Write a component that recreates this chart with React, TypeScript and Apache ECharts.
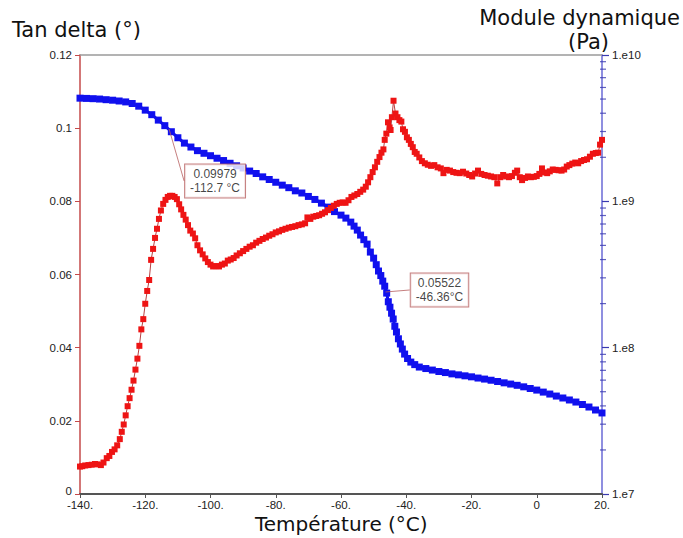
import React, { useEffect, useRef } from "react";
import * as echarts from "echarts";

// Tan delta (left axis, red)
const tempTan = [
  -140, -139.3, -138.4, -137.4, -136.4, -135.4, -134.6, -133.6, -132.8, -131.8,
  -131.0, -130.2, -129.4, -128.6, -127.8, -127.2, -126.6, -126.0, -125.4, -124.8,
  -124.2, -123.6, -123.0, -122.4, -121.8, -121.2, -120.6, -120.0, -119.4, -118.8,
  -118.2, -117.6, -117.0, -116.4, -115.8, -115.2, -114.5, -113.8, -113.1, -112.4,
  -111.7, -111.0, -110.3, -109.6, -109.0, -108.3, -107.6, -106.9, -106.2, -105.4,
  -104.7, -104.0, -103.2, -102.4, -101.6, -100.8, -100.0, -99.2, -98.3, -97.4,
  -96.5, -95.6, -94.7, -93.8, -92.9, -92.0, -91.0, -90.0, -89.0, -88.0,
  -87.0, -86.0, -85.0, -84.0, -83.0, -82.0, -81.0, -80.0, -79.0, -78.0,
  -77.0, -76.0, -75.0, -74.0, -73.0, -72.0, -71.0, -70.3, -69.4, -68.5,
  -67.6, -66.7, -65.8, -64.9, -64.0, -63.1, -62.2, -61.3, -60.4, -59.5,
  -58.6, -57.7, -56.8, -55.9, -55.0, -54.1, -53.2, -52.4, -51.7, -51.0,
  -50.3, -49.6, -48.9, -48.2, -47.6, -47.0, -46.6, -46.1, -45.6, -45.1,
  -44.8, -44.4, -43.9, -43.3, -42.7, -42.1, -41.5, -41.0, -40.4, -39.8,
  -39.2, -38.6, -38.0, -37.4, -36.8, -36.0, -35.2, -34.3, -33.4, -32.4,
  -31.4, -30.4, -29.4, -28.6, -27.6, -26.6, -25.6, -24.6, -23.6, -22.6,
  -21.6, -20.7, -19.8, -18.9, -18.0, -17.0, -16.0, -15.0, -14.0, -13.0,
  -12.1, -11.2, -10.3, -9.4, -8.5, -7.6, -6.7, -6.0, -5.2, -4.5,
  -3.6, -2.7, -1.8, -0.9, 0.0, 0.8, 1.6, 2.4, 3.2, 4.0,
  4.9, 5.8, 6.7, 7.6, 8.4, 9.2, 10.0, 10.9, 11.8, 12.7,
  13.6, 14.5, 15.4, 16.3, 17.2, 18.1, 18.8, 19.4, 20.0,
];
const tanDelta = [
  0.0075, 0.0076, 0.0078, 0.0079, 0.0080, 0.0082, 0.0081, 0.0079, 0.0086, 0.0098,
  0.0104, 0.0115, 0.0122, 0.0133, 0.0150, 0.0170, 0.0190, 0.0215, 0.0240, 0.0262,
  0.0285, 0.0310, 0.0340, 0.0370, 0.0405, 0.0450, 0.0478, 0.0520, 0.0555, 0.0585,
  0.0640, 0.0670, 0.0700, 0.0725, 0.0752, 0.0775, 0.0793, 0.0804, 0.0812, 0.0815,
  0.0815, 0.0812, 0.0806, 0.0792, 0.0778, 0.0763, 0.0750, 0.0735, 0.0720, 0.0712,
  0.0699, 0.0680, 0.0666, 0.0655, 0.0644, 0.0634, 0.0627, 0.0622, 0.0623, 0.0622,
  0.0627, 0.0630, 0.0638, 0.0641, 0.0645, 0.0652, 0.0658, 0.0664, 0.0670, 0.0676,
  0.0680, 0.0687, 0.0692, 0.0697, 0.0701, 0.0706, 0.0710, 0.0715, 0.0718, 0.0722,
  0.0725, 0.0728, 0.0730, 0.0732, 0.0735, 0.0737, 0.0740, 0.0756, 0.0752, 0.0758,
  0.0760, 0.0762, 0.0766, 0.0770, 0.0776, 0.0782, 0.0788, 0.0793, 0.0796, 0.0797,
  0.0796, 0.0803, 0.0812, 0.0816, 0.0820, 0.0826, 0.0832, 0.0840, 0.0852, 0.0866,
  0.0880, 0.0893, 0.0908, 0.0921, 0.0933, 0.0942, 0.0968, 0.0985, 0.1016, 0.1002,
  0.0995, 0.1030, 0.1075, 0.1040, 0.1030, 0.1022, 0.1018, 0.0997, 0.0990, 0.0975,
  0.0968, 0.0957, 0.0948, 0.0935, 0.0930, 0.0920, 0.0910, 0.0904, 0.0900, 0.0897,
  0.0899, 0.0893, 0.0890, 0.0877, 0.0886, 0.0884, 0.0880, 0.0878, 0.0877, 0.0881,
  0.0876, 0.0872, 0.0868, 0.0876, 0.0884, 0.0875, 0.0872, 0.0870, 0.0868, 0.0866,
  0.0849, 0.0866, 0.0872, 0.0868, 0.0866, 0.0869, 0.0878, 0.0884, 0.0866, 0.0858,
  0.0864, 0.0868, 0.0866, 0.0867, 0.0869, 0.0875, 0.0890, 0.0879, 0.0877, 0.0882,
  0.0887, 0.0886, 0.0885, 0.0884, 0.0887, 0.0895, 0.0899, 0.0903, 0.0906, 0.0904,
  0.0910, 0.0913, 0.0915, 0.0922, 0.0930, 0.0932, 0.0933, 0.0955, 0.0968,
];

// Module dynamique (right log axis, blue)
const tempMod = [
  -140, -138, -136, -134, -132, -130, -128, -126, -124, -122,
  -120, -118, -116, -114, -112, -110, -108, -106, -104, -102,
  -100, -98, -96, -94, -92, -90, -88, -86, -84, -82,
  -80, -78, -76, -74, -72, -70, -68, -66, -64, -62,
  -60, -58.5, -57, -56, -55, -54, -53, -52, -51, -50,
  -49.2, -48.5, -47.8, -47.2, -46.6, -46.0, -45.5, -45.0, -44.5, -44.0,
  -43.5, -43.0, -42.4, -41.8, -41.2, -40.5, -39.6, -38.6, -37.4, -36.0,
  -34, -32, -30, -28, -26, -24, -22, -20, -18, -16,
  -14, -12, -10, -8, -6, -4, -2, 0, 2, 4,
  6, 8, 10, 12, 14, 16, 18, 20,
];
const modulus = [
  5.07e9, 5.05e9, 5.03e9, 5.0e9, 4.95e9, 4.91e9, 4.85e9, 4.78e9, 4.66e9, 4.47e9,
  4.2e9, 3.91e9, 3.59e9, 3.29e9, 2.99e9, 2.72e9, 2.5e9, 2.35e9, 2.22e9, 2.13e9,
  2.05e9, 1.97e9, 1.9e9, 1.82e9, 1.75e9, 1.69e9, 1.61e9, 1.55e9, 1.47e9, 1.41e9,
  1.35e9, 1.29e9, 1.24e9, 1.18e9, 1.14e9, 1.08e9, 1.03e9, 9.72e8, 9.13e8, 8.51e8,
  8.05e8, 7.68e8, 7.21e8, 6.77e8, 6.36e8, 5.88e8, 5.47e8, 5.1e8, 4.5e8, 4.09e8,
  3.69e8, 3.34e8, 3.11e8, 2.85e8, 2.63e8, 2.36e8, 2.06e8, 1.89e8, 1.72e8, 1.57e8,
  1.4e8, 1.28e8, 1.15e8, 1.06e8, 9.78e7, 9.04e7, 8.43e7, 7.97e7, 7.66e7, 7.37e7,
  7.2e7, 7.03e7, 6.87e7, 6.76e7, 6.62e7, 6.52e7, 6.42e7, 6.32e7, 6.2e7, 6.1e7,
  5.99e7, 5.87e7, 5.75e7, 5.64e7, 5.53e7, 5.4e7, 5.26e7, 5.13e7, 4.97e7, 4.82e7,
  4.67e7, 4.53e7, 4.39e7, 4.25e7, 4.09e7, 3.93e7, 3.75e7, 3.58e7,
];

// Minor ticks of the logarithmic axis
const logMinorTicks = [
  2e7, 3e7, 4e7, 5e7, 6e7, 7e7, 8e7, 9e7,
  2e8, 3e8, 4e8, 5e8, 6e8, 7e8, 8e8, 9e8,
  2e9, 3e9, 4e9, 5e9, 6e9, 7e9, 8e9, 9e9,
];

// Cursor annotations
const annotTemps = [-112.7, -46.36];
const annotValues = [0.09979, 0.05522];
const annotLabels = ["0.09979\n-112.7 °C", "0.05522\n-46.36°C"];

const X_MIN = -140;
const X_MAX = 20;

export default function App() {
  const ref = useRef<HTMLDivElement>(null);

  useEffect(() => {
    if (!ref.current) return;
    const chart = echarts.init(ref.current, undefined, { renderer: "svg" });
    const tickFont = "Liberation Sans, Arial, sans-serif";
    const titleFont = "DejaVu Sans, Verdana, sans-serif";

    chart.setOption({
      animation: false,
      backgroundColor: "#ffffff",
      grid: { left: 80, right: 81, top: 55, bottom: 44, containLabel: false },
      xAxis: [
        {
          type: "value",
          min: X_MIN,
          max: X_MAX,
          interval: 20,
          position: "bottom",
          axisLine: { show: true, onZero: false, lineStyle: { color: "#555555", width: 2 } },
          axisTick: { show: true, length: 4, lineStyle: { color: "#555555" } },
          axisLabel: {
            color: "#222222",
            fontSize: 11.5,
            fontFamily: tickFont,
            margin: 5,
            formatter: (v: number) => (v === 0 ? "0" : v + "."),
          },
          splitLine: { show: false },
        },
        {
          type: "value",
          min: X_MIN,
          max: X_MAX,
          position: "top",
          axisLine: { show: true, onZero: false, lineStyle: { color: "#9a9a9a", width: 1.5 } },
          axisTick: { show: false },
          axisLabel: { show: false },
          splitLine: { show: false },
        },
      ],
      yAxis: [
        {
          type: "value",
          min: 0,
          max: 0.12,
          interval: 0.02,
          position: "left",
          axisLine: { show: true, onZero: false, lineStyle: { color: "#c44a4a", width: 1.5 } },
          axisTick: { show: true, length: 5, lineStyle: { color: "#c44a4a" } },
          axisLabel: {
            color: "#222222",
            fontSize: 11.5,
            fontFamily: tickFont,
            margin: 8,
            formatter: (v: number) =>
              v === 0 ? "{zero|0}" : String(parseFloat(v.toFixed(3))),
            rich: {
              zero: {
                fontSize: 11.5,
                fontFamily: tickFont,
                color: "#222222",
                lineHeight: 10,
                padding: [0, 0, 7, 0],
              },
            },
          },
          splitLine: { show: false },
        },
        {
          type: "log",
          logBase: 10,
          min: 1e7,
          max: 1e10,
          position: "right",
          axisLine: { show: true, onZero: false, lineStyle: { color: "#6a6ad6", width: 1.5 } },
          axisTick: { show: true, length: 7, lineStyle: { color: "#3a3ab0", width: 1.2 } },
          axisLabel: {
            color: "#222222",
            fontSize: 11.5,
            fontFamily: tickFont,
            margin: 10,
            formatter: (v: number) => "1.e" + Math.round(Math.log10(v)),
          },
          splitLine: { show: false },
        },
      ],
      graphic: [
        {
          type: "text",
          left: 12,
          top: 19,
          style: { text: "Tan delta (°)", fontSize: 21, fontFamily: titleFont, fill: "#111111" },
        },
        {
          type: "text",
          right: 3,
          top: 7,
          style: { text: "Module dynamique", fontSize: 21, fontFamily: titleFont, fill: "#111111" },
        },
        {
          type: "text",
          left: 568,
          top: 31,
          style: { text: "(Pa)", fontSize: 21, fontFamily: titleFont, fill: "#111111" },
        },
        {
          type: "text",
          left: 255,
          top: 514,
          style: { text: "Température (°C)", fontSize: 20, fontFamily: titleFont, fill: "#111111" },
        },
      ],
      series: [
        {
          name: "Module dynamique",
          type: "line",
          xAxisIndex: 0,
          yAxisIndex: 1,
          data: tempMod.map((t, i) => [t, modulus[i]]),
          symbol: "rect",
          symbolSize: 7,
          showAllSymbol: true,
          itemStyle: { color: "#1010ee" },
          lineStyle: { color: "#1010ee", width: 3 },
          z: 2,
        },
        {
          name: "Tan delta",
          type: "line",
          xAxisIndex: 0,
          yAxisIndex: 0,
          data: tempTan.map((t, i) => [t, tanDelta[i]]),
          symbol: "rect",
          symbolSize: 6,
          showAllSymbol: true,
          itemStyle: { color: "#ee1414" },
          lineStyle: { color: "#b84040", width: 1 },
          z: 3,
        },
        {
          name: "minorTicks",
          type: "scatter",
          xAxisIndex: 0,
          yAxisIndex: 1,
          clip: false,
          data: logMinorTicks.map((v) => [X_MAX, v]),
          symbol: "rect",
          symbolSize: [6, 1.2],
          symbolOffset: [1, 0],
          itemStyle: { color: "#3a3ab0" },
          silent: true,
          z: 4,
        },
        {
          name: "annotations",
          type: "scatter",
          xAxisIndex: 0,
          yAxisIndex: 0,
          clip: false,
          data: annotTemps.map((t, i) => [t, annotValues[i]]),
          symbolSize: 0,
          label: {
            show: true,
            position: "inside",
            formatter: (p: any) => annotLabels[p.dataIndex],
            backgroundColor: "#ffffff",
            borderColor: "#b86060",
            borderWidth: 1,
            padding: [3, 5, 2, 5],
            color: "#111111",
            fontSize: 12,
            lineHeight: 14,
            fontFamily: tickFont,
          },
          labelLine: { show: true, lineStyle: { color: "#b86060", width: 0.8 } },
          labelLayout: (p: any) => (p.dataIndex === 0 ? { dx: 46, dy: 52 } : { dx: 54, dy: -2 }),
          z: 5,
        },
      ],
    });

    return () => chart.dispose();
  }, []);

  return (
    <div
      ref={ref}
      style={{ position: "fixed", left: 0, top: 0, width: 683, height: 538, background: "#fff" }}
    />
  );
}
